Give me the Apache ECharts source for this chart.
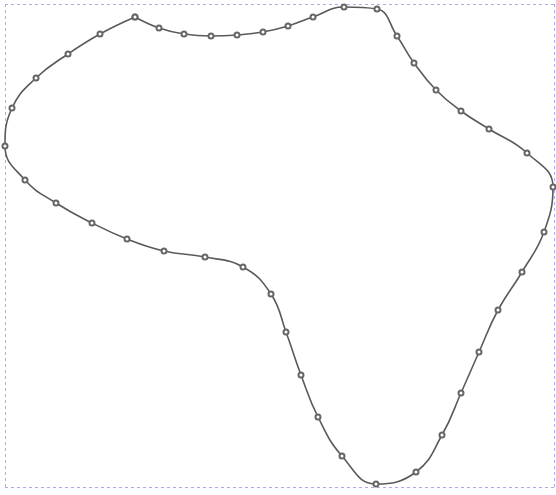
<!DOCTYPE html>
<html>
<head>
<meta charset="utf-8">
<script src="https://cdn.jsdelivr.net/npm/echarts@6/dist/echarts.min.js"></script>
<style>html,body{margin:0;padding:0;background:#fff}#c{width:556px;height:495px}</style>
</head>
<body>
<div id="c"></div>
<script>
// Point coordinates (x to the right, y upward)
var xs = [130,154,179,206,232,258,283,308,339,372,392,409,431,456,484,522,548,539,517,493,474,456,437,411,371,337,313,296,281,266,238,200,159,122,87,51,20,0,7,31,63,95,130];
var ys = [470,459,453,451,452,455,461,470,480,478,451,424,397,376,358,334,300,255,215,177,135,94,52,15,3,31,70,112,155,193,220,230,236,248,264,284,307,341,379,409,433,453,470];
var xRange = [0, 549];
var yRange = [0, 483];

var data = xs.map(function (x, i) { return [x, ys[i]]; });

var chart = echarts.init(document.getElementById('c'));
var edgeLine = { show: true, lineStyle: { color: '#aaaaee', type: [3, 3], width: 1 } };
chart.setOption({
  animation: false,
  grid: { left: 5, right: 2, top: 4, bottom: 8 },
  xAxis: {
    type: 'value', min: xRange[0], max: xRange[1], interval: xRange[1] - xRange[0],
    axisLine: { show: false }, axisTick: { show: false }, axisLabel: { show: false },
    splitLine: edgeLine
  },
  yAxis: {
    type: 'value', min: yRange[0], max: yRange[1], interval: yRange[1] - yRange[0],
    axisLine: { show: false }, axisTick: { show: false }, axisLabel: { show: false },
    splitLine: edgeLine
  },
  series: [{
    type: 'line',
    data: data,
    smooth: 0.45,
    clip: false,
    symbol: 'emptyCircle',
    symbolSize: 5,
    showAllSymbol: true,
    lineStyle: { color: '#5a5a5a', width: 1.6 },
    itemStyle: { color: '#666666', borderColor: '#555555', borderWidth: 1 }
  }]
});
</script>
</body>
</html>
